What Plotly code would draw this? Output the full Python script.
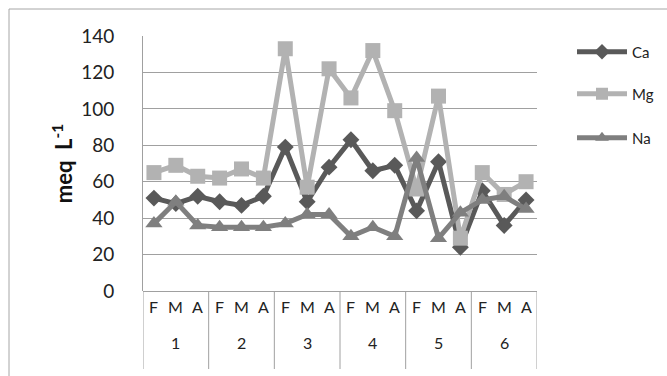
import plotly.graph_objects as go

months = ["F", "M", "A"] * 6
groups = ["1", "2", "3", "4", "5", "6"]
ca = [51, 48, 52, 49, 47, 52, 79, 49, 68, 83, 66, 69, 44, 71, 24, 55, 36, 50]
mg = [65, 69, 63, 62, 67, 62, 133, 57, 122, 106, 132, 99, 56, 107, 29, 65, 53, 60]
na = [37, 49, 36, 35, 35, 35, 37, 42, 42, 30, 35, 30, 73, 29, 43, 50, 52, 45]
y_ticks = [0, 20, 40, 60, 80, 100, 120, 140]

W, H = 667, 376
L, R, T, B = 143, 130, 36, 85
pw, ph = W - L - R, H - T - B

def px_x(x):
    return (x - L) / pw

def px_y(y):
    return (H - B - y) / ph

FONT = "Lato"
xs = list(range(len(months)))

fig = go.Figure()
series = [
    ("Ca", ca, "#595959", "diamond", 13, "legend"),
    ("Mg", mg, "#b2b2b2", "square", 15, "legend2"),
    ("Na", na, "#7f7f7f", "triangle-up", 15, "legend3"),
]
for name, vals, col, sym, sz, lg in series:
    fig.add_trace(go.Scatter(
        x=xs, y=vals, name=name, mode="lines+markers",
        line=dict(color=col, width=5),
        marker=dict(symbol=sym, size=sz, color=col),
        legend=lg,
    ))

shapes = []
annotations = []
for i, m in enumerate(months):
    annotations.append(dict(x=i, y=px_y(318), xref="x", yref="paper", text=m,
                            showarrow=False, font=dict(family=FONT, size=16, color="#222")))
for g, gname in enumerate(groups):
    annotations.append(dict(x=g * 3 + 1, y=px_y(354), xref="x", yref="paper", text=gname,
                            showarrow=False, font=dict(family=FONT, size=16, color="#222")))
for g in range(len(groups) + 1):
    shapes.append(dict(type="line", xref="x", yref="paper", x0=g * 3 - 0.5, x1=g * 3 - 0.5,
                       y0=0, y1=px_y(369), line=dict(color="#a0a0a0", width=1)))
shapes.append(dict(type="rect", xref="paper", yref="paper", x0=px_x(9), x1=px_x(675),
                   y0=px_y(385), y1=px_y(9), line=dict(color="#a6a6a6", width=1), layer="below"))

leg_common = dict(xanchor="left", yanchor="middle", itemwidth=50, itemsizing="constant",
                  font=dict(family=FONT, size=15, color="#222"), bgcolor="rgba(0,0,0,0)")

fig.update_layout(
    width=W, height=H,
    margin=dict(l=L, r=R, t=T, b=B, autoexpand=False),
    paper_bgcolor="white", plot_bgcolor="white",
    font=dict(family=FONT, color="#222"),
    showlegend=True,
    shapes=shapes, annotations=annotations,
    xaxis=dict(range=[-0.5, len(months) - 0.5], showticklabels=False, showgrid=False,
               zeroline=False, showline=False, ticks="", automargin=False),
    yaxis=dict(range=[0, 140], tickvals=y_ticks, showgrid=True, gridcolor="#a0a0a0",
               gridwidth=1, zeroline=True, zerolinecolor="#a0a0a0", zerolinewidth=1,
               showline=True, linecolor="#a0a0a0", linewidth=1, ticks="", automargin=False,
               ticklabelstandoff=24, tickfont=dict(family=FONT, size=19, color="#222"),
               title=dict(text="<b>meq&nbsp;&nbsp;L<sup>-1</sup></b>", standoff=2,
                          font=dict(family=FONT, size=22, color="#111"))),
    legend=dict(x=px_x(572), y=px_y(52), **leg_common),
    legend2=dict(x=px_x(572), y=px_y(94), **leg_common),
    legend3=dict(x=px_x(572), y=px_y(138), **leg_common),
)

fig.write_html("out.html", config={"displayModeBar": False},
               post_script="document.body.style.margin='0px';")
